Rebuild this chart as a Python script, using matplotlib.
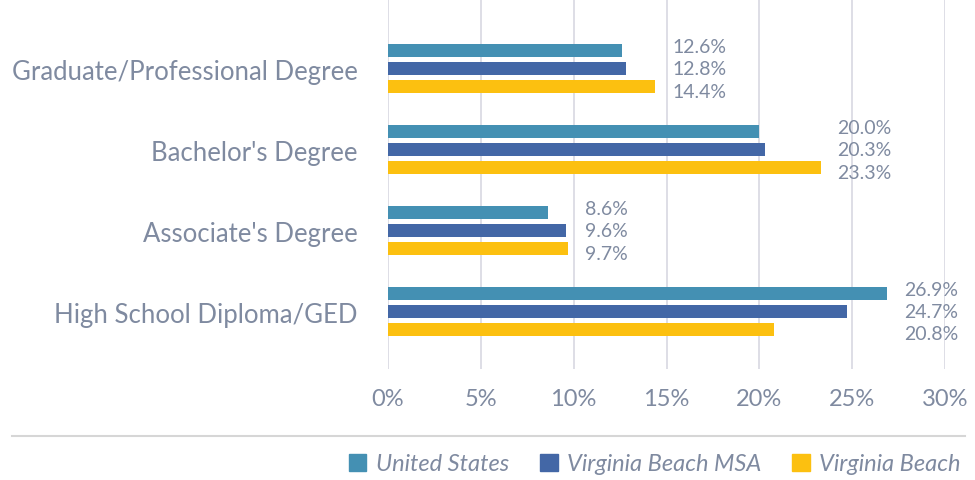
import matplotlib.pyplot as plt
import numpy as np
from matplotlib.lines import Line2D

plt.rcParams['font.family'] = ['Lato', 'DejaVu Sans']

# data (bottom to top as drawn)
categories = ["High School Diploma/GED", "Associate's Degree",
              "Bachelor's Degree", "Graduate/Professional Degree"]
us = [26.9, 8.6, 20.0, 12.6]
msa = [24.7, 9.6, 20.3, 12.8]
vb = [20.8, 9.7, 23.3, 14.4]
series_names = ["United States", "Virginia Beach MSA", "Virginia Beach"]
colors = ["#4490b3", "#4367a6", "#fcc010"]
xticks = [0, 5, 10, 15, 20, 25, 30]

text_col = "#7f8aa0"
grid_col = "#d8d8e2"

fig = plt.figure(figsize=(9.75, 4.81), dpi=100)
ax = fig.add_axes([388/975, 111/481, (945-388)/975, 370/481])

y = np.arange(len(categories))
step = 0.222
h = 0.16
all_vals = [us, msa, vb]
for i, (vals, c) in enumerate(zip(all_vals, colors)):
    ax.barh(y + step - i*step, vals, height=h, color=c, zorder=3)

# value labels stacked to the right of each group
lstep = step * 1.25
for j in range(len(categories)):
    xpos = max(us[j], msa[j], vb[j]) + 0.9
    for i, vals in enumerate(all_vals):
        ax.text(xpos, y[j] + lstep - i*lstep, f"{vals[j]:.1f}%", ha="left",
                va="center", fontsize=14, color=text_col)

ax.set_xlim(0, 30)
ax.set_ylim(-0.71, 3.86)
ax.set_xticks(xticks)
ax.set_xticklabels([f"{t}%" for t in xticks])
ax.set_yticks(y)
ax.set_yticklabels(categories)
ax.tick_params(axis="both", length=0, colors=text_col)
ax.tick_params(axis="x", labelsize=17, pad=14)
ax.tick_params(axis="y", labelsize=18.5, pad=22)
ax.grid(axis="x", color=grid_col, linewidth=1.2, zorder=0)
for s in ax.spines.values():
    s.set_visible(False)

# separator line above legend
fig.add_artist(Line2D([12/975, 965/975], [1 - 437/481, 1 - 437/481],
                      color="#d6d6d6", linewidth=1.5))

handles = [plt.Rectangle((0, 0), 1, 1, color=c) for c in colors]
leg = fig.legend(handles, series_names, loc="center right",
                 bbox_to_anchor=(970/975, 1 - 465/481), ncol=3, frameon=False,
                 handlelength=0.75, handleheight=0.75, handletextpad=0.4,
                 columnspacing=1.3, borderaxespad=0,
                 prop={"style": "italic", "size": 17})
for t in leg.get_texts():
    t.set_color(text_col)

fig.savefig("out.png", dpi=100)
